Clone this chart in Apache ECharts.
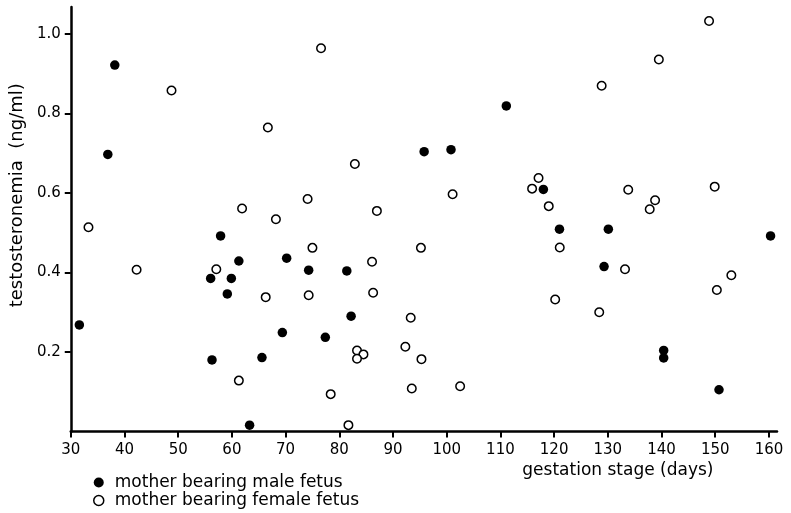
<!DOCTYPE html>
<html>
<head>
<meta charset="utf-8">
<script src="https://cdn.jsdelivr.net/npm/echarts@6/dist/echarts.min.js"></script>
<style>html,body{margin:0;padding:0;background:#fff;}#c{width:791px;height:513px;}</style>
</head>
<body>
<div id="c"></div>
<script>
// gestation stage (days) and testosteronemia (ng/ml)
var maleDays   = [31.6, 36.9, 38.2, 56.05, 57.9, 59.15, 59.9, 61.3, 56.3, 63.3, 65.6, 69.4, 70.2, 74.3, 77.4, 81.4, 82.2, 95.8, 100.8, 111.1, 118.0, 121.0, 130.1, 129.3, 140.4, 140.4, 150.7, 160.3];
var maleValues = [0.268, 0.697, 0.922, 0.385, 0.492, 0.346, 0.385, 0.429, 0.180, 0.016, 0.186, 0.249, 0.436, 0.406, 0.237, 0.404, 0.290, 0.704, 0.709, 0.819, 0.609, 0.509, 0.509, 0.415, 0.204, 0.185, 0.105, 0.492];
var femaleDays   = [33.3, 42.26, 48.76, 57.1, 61.9, 61.3, 66.3, 66.7, 68.2, 74.1, 74.3, 75.0, 76.6, 78.4, 81.7, 82.9, 83.3, 84.5, 83.3, 86.1, 86.3, 87.0, 92.3, 93.3, 93.5, 95.2, 95.3, 101.1, 102.5, 115.9, 117.1, 119.0, 120.2, 121.05, 128.4, 128.85, 133.2, 133.8, 137.8, 138.8, 139.5, 148.85, 149.9, 150.3, 153.0];
var femaleValues = [0.514, 0.407, 0.858, 0.408, 0.561, 0.128, 0.338, 0.765, 0.534, 0.585, 0.343, 0.462, 0.964, 0.094, 0.016, 0.673, 0.204, 0.194, 0.183, 0.427, 0.349, 0.555, 0.213, 0.286, 0.108, 0.462, 0.182, 0.597, 0.114, 0.611, 0.638, 0.567, 0.332, 0.463, 0.300, 0.870, 0.408, 0.608, 0.559, 0.582, 0.936, 1.033, 0.616, 0.356, 0.393];
var xTicks = [30, 40, 50, 60, 70, 80, 90, 100, 110, 120, 130, 140, 150, 160];
var yTicks = [0.2, 0.4, 0.6, 0.8, 1.0];
var maleName = 'mother bearing male fetus';
var femaleName = 'mother bearing female fetus';

function pairs(xs, ys) { return xs.map(function (x, i) { return [x, ys[i]]; }); }

var FONT = 'DejaVu Sans';
var chart = echarts.init(document.getElementById('c'), null, {renderer: 'canvas'});
chart.setOption({
  animation: false,
  backgroundColor: '#fff',
  grid: {left: 69, right: 14, top: 7, bottom: 81.5, containLabel: false},
  xAxis: {
    type: 'value', min: 30, max: 161.5,
    name: 'gestation stage (days)', nameLocation: 'middle', nameGap: 31,
    nameTextStyle: {color: '#000', fontFamily: FONT, fontSize: 17, padding: [0, 0, 0, 388]},
    axisLine: {show: true, onZero: false, lineStyle: {color: '#000', width: 2.5}},
    axisTick: {show: true, customValues: xTicks, length: 6, inside: false, lineStyle: {color: '#000', width: 2}},
    axisLabel: {customValues: xTicks, margin: 11, color: '#000', fontFamily: FONT, fontSize: 15},
    splitLine: {show: false}
  },
  yAxis: {
    type: 'value', min: 0, max: 1.068,
    name: 'testosteronemia  (ng/ml)', nameLocation: 'middle', nameGap: 44, nameRotate: 90,
    nameTextStyle: {color: '#000', fontFamily: FONT, fontSize: 18, padding: [0, 0, 0, 48]},
    axisLine: {show: true, onZero: false, lineStyle: {color: '#000', width: 2.5}},
    axisTick: {show: true, customValues: yTicks, length: 6, inside: false, lineStyle: {color: '#000', width: 2}},
    axisLabel: {customValues: yTicks, margin: 10, color: '#000', fontFamily: FONT, fontSize: 15,
      formatter: function (v) { return v.toFixed(1); }},
    splitLine: {show: false}
  },
  legend: {
    orient: 'vertical', left: 93, top: 474, padding: 0, itemGap: 1,
    itemWidth: 10, itemHeight: 10, icon: 'circle',
    textStyle: {color: '#000', fontFamily: FONT, fontSize: 17, padding: [0, 0, 0, 6]},
    data: [
      {name: maleName, itemStyle: {color: '#000', borderWidth: 0}},
      {name: femaleName, itemStyle: {color: '#fff', borderColor: '#000', borderWidth: 1.5}}
    ]
  },
  series: [
    {
      name: maleName, type: 'scatter', symbol: 'circle', symbolSize: 9.5,
      itemStyle: {color: '#000', opacity: 1},
      data: pairs(maleDays, maleValues)
    },
    {
      name: femaleName, type: 'scatter', symbol: 'circle', symbolSize: 8.5,
      itemStyle: {color: '#fff', borderColor: '#000', borderWidth: 1.5, opacity: 1},
      data: pairs(femaleDays, femaleValues)
    }
  ]
});
</script>
</body>
</html>
